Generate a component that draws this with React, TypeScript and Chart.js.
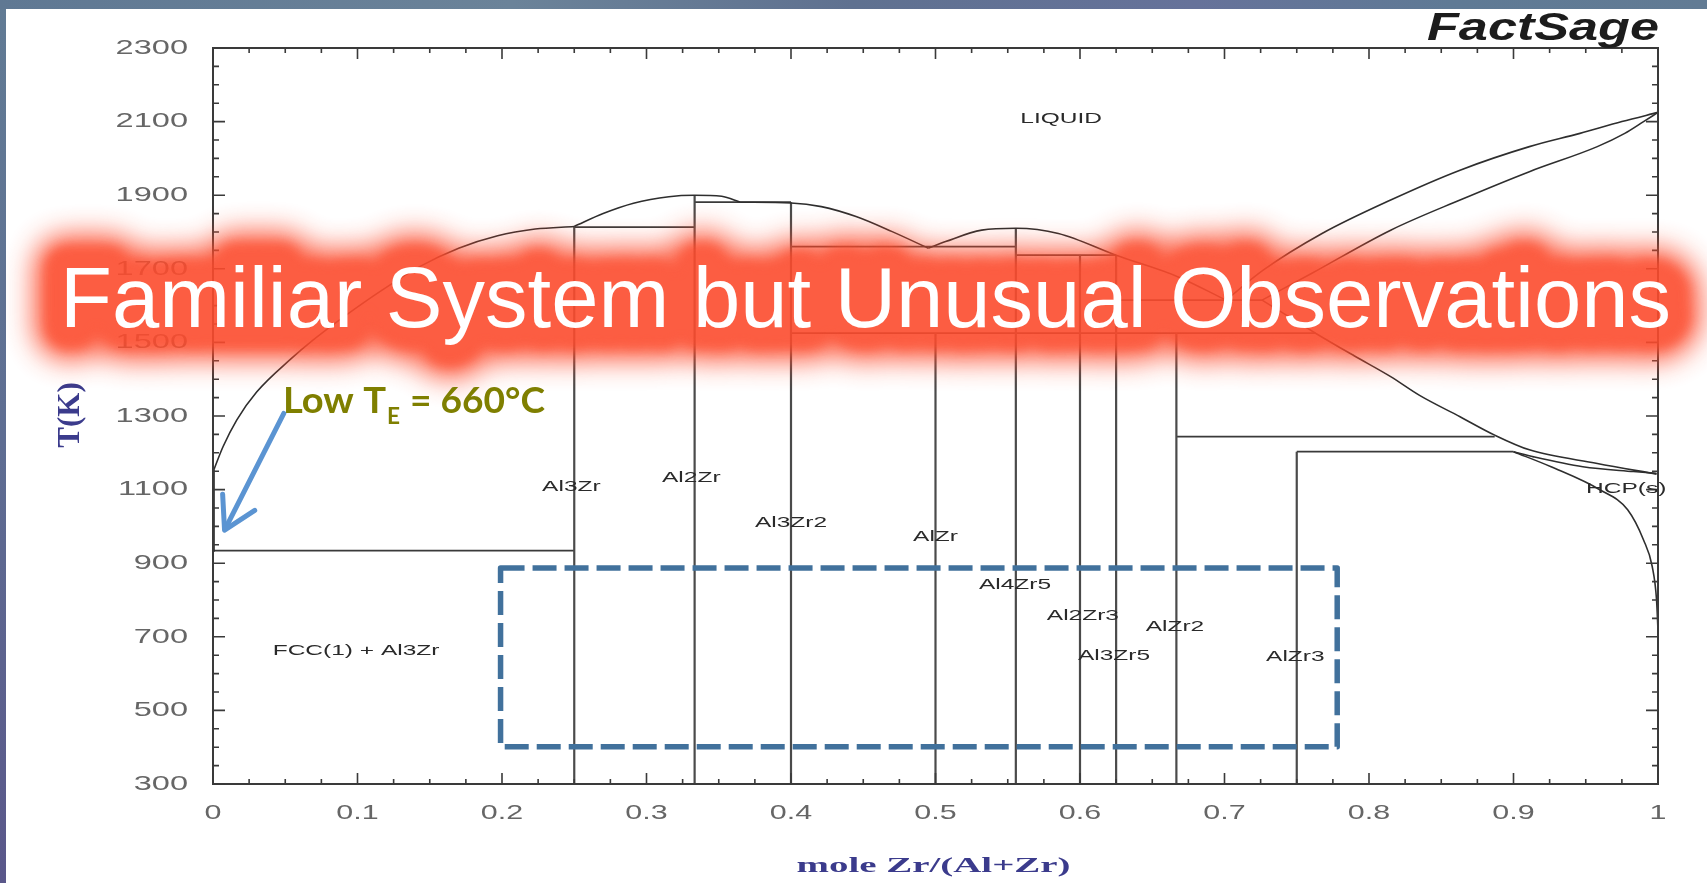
import React, { useEffect, useRef } from 'react';
import { Chart, registerables } from 'chart.js';

Chart.register(...registerables);

const W = 1707;
const H = 883;
const PLOT = { left: 213, top: 48, right: 1658, bottom: 784 };

// ---------- axes ----------
const xMin = 0;
const xMax = 1;
const yMin = 300;
const yMax = 2300;
const xTickValues = [0, 0.1, 0.2, 0.3, 0.4, 0.5, 0.6, 0.7, 0.8, 0.9, 1];
const xTickLabels = ['0', '0.1', '0.2', '0.3', '0.4', '0.5', '0.6', '0.7', '0.8', '0.9', '1'];
const yTickValues = [300, 500, 700, 900, 1100, 1300, 1500, 1700, 1900, 2100, 2300];
const yTickLabels = ['300', '500', '700', '900', '1100', '1300', '1500', '1700', '1900', '2100', '2300'];
const xMinorStep = 0.025;
const yMinorStep = 50;

// ---------- phase boundaries (x = mole Zr/(Al+Zr), y = T in K) ----------
const alEdge = [[0, 934], [0.0005, 1153]];
const alLiquidus = [
  [0.0005, 1153], [0.007, 1217], [0.0164, 1289], [0.0302, 1365], [0.0539, 1455],
  [0.0698, 1508], [0.09, 1568], [0.117, 1642], [0.143, 1706], [0.17, 1756], [0.197, 1790],
  [0.223, 1808], [0.25, 1815],
];
const liquidusArc1 = [
  [0.25, 1815], [0.27, 1850], [0.291, 1878], [0.3155, 1896], [0.333, 1900], [0.352, 1897], [0.365, 1881],
];
const liquidusArc2 = [
  [0.365, 1881], [0.4, 1879], [0.421, 1869], [0.445, 1842], [0.47, 1801], [0.495, 1756],
];
const liquidusArc3 = [
  [0.495, 1756], [0.507, 1774], [0.532, 1805], [0.5556, 1810], [0.585, 1796], [0.625, 1737],
  [0.668, 1678], [0.701, 1615],
];
const betaLiquidus = [
  [0.701, 1615], [0.727, 1697], [0.7675, 1796], [0.815, 1887], [0.863, 1968], [0.911, 2032],
  [0.946, 2068], [0.975, 2100], [1, 2125],
];
const betaSolidus = [
  [0.726, 1615], [0.7605, 1688], [0.815, 1805], [0.863, 1887], [0.911, 1964], [0.958, 2032],
  [0.977, 2068], [0.99, 2100], [1, 2125],
];
const betaSolvus = [
  [0.726, 1615], [0.763, 1525], [0.79, 1463], [0.815, 1407], [0.835, 1356], [0.863, 1298],
  [0.887, 1248], [0.911, 1208], [0.958, 1171], [0.999, 1142],
];
const hcpLens = [[0.9, 1203], [0.914, 1189], [0.948, 1162], [0.983, 1149], [0.999, 1144]];
const hcpSolvus = [
  [0.9, 1203], [0.926, 1162], [0.96, 1099], [0.979, 1045], [0.99, 963], [0.996, 891],
  [0.999, 800], [1, 718],
];

// compounds (vertical lines)
const compoundX = [0.25, 0.3333, 0.4, 0.5, 0.5556, 0.6, 0.625, 0.6667, 0.75];
const compoundTopT = [1815, 1900, 1881, 1525, 1810, 1737, 1737, 1525, 1203];

// invariant isotherms
const isoT = [934, 1813, 1881, 1760, 1737, 1525, 1615, 1244, 1203];
const isoFrom = [0, 0.25, 0.3333, 0.4, 0.5556, 0.4, 0.625, 0.6667, 0.75];
const isoTo = [0.25, 0.3333, 0.4, 0.5556, 0.625, 0.763, 0.726, 0.887, 0.9];

// phase-field labels
const phaseLabelText = ['LIQUID', 'FCC(1) + Al3Zr', 'Al3Zr', 'Al2Zr', 'Al3Zr2', 'AlZr', 'Al4Zr5', 'Al2Zr3', 'Al3Zr5', 'AlZr2', 'AlZr3', 'HCP(s)'];
const phaseLabelX = [0.587, 0.099, 0.248, 0.331, 0.4, 0.5, 0.555, 0.602, 0.6235, 0.6657, 0.749, 0.978];
const phaseLabelT = [2107, 660, 1108, 1131, 1009, 972, 841, 755, 648, 727, 645, 1101];

// slide annotations (in data coordinates)
const arrowFrom = [0.049, 1307];
const arrowTo = [0.008, 990];
const focusBox = [0.199, 887, 0.778, 401]; // x1, T1, x2, T2

const bannerText = 'Familiar System but Unusual Observations';
const xTitle = 'mole Zr/(Al+Zr)';
const yTitle = 'T(K)';
const brand = 'FactSage';

const SANS = '"Liberation Sans", Arial, Helvetica, sans-serif';
const SERIF = '"Liberation Serif", "Times New Roman", serif';
const CALI = 'Lato, "Open Sans", sans-serif';

function drawStretched(ctx: any, text: string, x: number, y: number, sx: number, align: string) {
  ctx.save();
  ctx.translate(x, y);
  ctx.scale(sx, 1);
  ctx.textAlign = align;
  ctx.fillText(text, 0, 0);
  ctx.restore();
}

function drawFitted(ctx: any, text: string, x: number, y: number, width: number, align: string) {
  const m = ctx.measureText(text).width;
  drawStretched(ctx, text, x, y, width / m, align);
}

const decorPlugin = {
  id: 'decor',
  afterDatasetsDraw(chart: any) {
    const ctx = chart.ctx;
    const a = chart.chartArea;
    const xs = chart.scales.x;
    const ys = chart.scales.y;
    ctx.save();
    // frame
    ctx.strokeStyle = '#3a3a3a';
    ctx.lineWidth = 2;
    ctx.strokeRect(a.left, a.top, a.right - a.left, a.bottom - a.top);
    // ticks (inward)
    ctx.lineWidth = 1.6;
    ctx.beginPath();
    const nx = Math.round((xMax - xMin) / xMinorStep);
    for (let i = 0; i <= nx; i++) {
      const px = xs.getPixelForValue(xMin + i * xMinorStep);
      const len = i % 4 === 0 ? 11 : 5;
      ctx.moveTo(px, a.bottom); ctx.lineTo(px, a.bottom - len);
      ctx.moveTo(px, a.top); ctx.lineTo(px, a.top + len);
    }
    const ny = Math.round((yMax - yMin) / yMinorStep);
    for (let i = 0; i <= ny; i++) {
      const py = ys.getPixelForValue(yMin + i * yMinorStep);
      const len = i % 4 === 0 ? 12 : 6;
      ctx.moveTo(a.left, py); ctx.lineTo(a.left + len, py);
      ctx.moveTo(a.right, py); ctx.lineTo(a.right - len, py);
    }
    ctx.stroke();

    // tick labels
    ctx.fillStyle = '#666666';
    ctx.font = `21px ${SANS}`;
    ctx.textBaseline = 'middle';
    yTickValues.forEach((v, i) => {
      drawStretched(ctx, yTickLabels[i], a.left - 25, ys.getPixelForValue(v), 1.55, 'right');
    });
    xTickValues.forEach((v, i) => {
      drawStretched(ctx, xTickLabels[i], xs.getPixelForValue(v), a.bottom + 29, 1.45, 'center');
    });

    // phase labels
    ctx.fillStyle = '#2a2a2a';
    ctx.font = `14px ${SANS}`;
    phaseLabelText.forEach((t, i) => {
      drawStretched(ctx, t, xs.getPixelForValue(phaseLabelX[i]), ys.getPixelForValue(phaseLabelT[i]), 1.75, 'center');
    });

    // axis titles
    ctx.fillStyle = '#3b3b8c';
    ctx.font = `bold 31px ${SERIF}`;
    ctx.save();
    ctx.translate(a.left - 142, (a.top + a.bottom) / 2 - 1);
    ctx.rotate(-Math.PI / 2);
    ctx.textAlign = 'center';
    ctx.textBaseline = 'middle';
    ctx.fillText(yTitle, 0, 0);
    ctx.restore();

    ctx.textBaseline = 'alphabetic';
    ctx.font = `bold 22px ${SERIF}`;
    drawFitted(ctx, xTitle, (a.left + a.right) / 2 - 2, a.bottom + 88, 274, 'center');

    // brand
    ctx.fillStyle = '#1c1c1c';
    ctx.font = `italic bold 38px ${SANS}`;
    drawFitted(ctx, brand, a.right + 1, a.top - 8, 232, 'right');
    ctx.restore();
  },
};

function drawOverlay(chart: any, canvas: HTMLCanvasElement) {
  const ctx = canvas.getContext('2d') as CanvasRenderingContext2D;
  ctx.clearRect(0, 0, W, H);
  const xs = chart.scales.x;
  const ys = chart.scales.y;

  // dashed focus box
  const bx1 = xs.getPixelForValue(focusBox[0]);
  const by1 = ys.getPixelForValue(focusBox[1]);
  const bx2 = xs.getPixelForValue(focusBox[2]);
  const by2 = ys.getPixelForValue(focusBox[3]);
  ctx.save();
  ctx.strokeStyle = '#41719c';
  ctx.lineWidth = 5.5;
  ctx.setLineDash([24, 8]);
  ctx.lineJoin = 'round';
  ctx.strokeRect(bx1, by1, bx2 - bx1, by2 - by1);
  ctx.restore();

  // arrow
  const tx = xs.getPixelForValue(arrowFrom[0]);
  const ty = ys.getPixelForValue(arrowFrom[1]);
  const hx = xs.getPixelForValue(arrowTo[0]);
  const hy = ys.getPixelForValue(arrowTo[1]);
  const dx = hx - tx;
  const dy = hy - ty;
  const len = Math.hypot(dx, dy);
  const ux = dx / len;
  const uy = dy / len;
  const ang = (30 * Math.PI) / 180;
  const wl = 36;
  const w1x = hx - wl * (ux * Math.cos(ang) - uy * Math.sin(ang));
  const w1y = hy - wl * (ux * Math.sin(ang) + uy * Math.cos(ang));
  const w2x = hx - wl * (ux * Math.cos(-ang) - uy * Math.sin(-ang));
  const w2y = hy - wl * (ux * Math.sin(-ang) + uy * Math.cos(-ang));
  ctx.save();
  ctx.strokeStyle = '#5b94d2';
  ctx.lineWidth = 5;
  ctx.lineCap = 'round';
  ctx.lineJoin = 'round';
  ctx.beginPath();
  ctx.moveTo(tx, ty);
  ctx.lineTo(hx - ux * 2, hy - uy * 2);
  ctx.stroke();
  ctx.beginPath();
  ctx.moveTo(w1x, w1y);
  ctx.lineTo(hx, hy);
  ctx.lineTo(w2x, w2y);
  ctx.stroke();
  ctx.restore();

  // banner glow
  const off = document.createElement('canvas');
  off.width = W;
  off.height = H;
  const o = off.getContext('2d') as CanvasRenderingContext2D;
  o.font = `85px ${SANS}`;
  const m = o.measureText(bannerText).width;
  const sx = 1611 / m;
  const red = 'rgb(252,76,46)';
  o.fillStyle = red;
  o.strokeStyle = red;
  o.lineJoin = 'round';
  o.save();
  (o as any).filter = 'blur(14px)';
  o.translate(60, 327);
  o.scale(sx, 1);
  o.lineWidth = 66;
  o.strokeText(bannerText, 0, 0);
  o.fillText(bannerText, 0, 0);
  o.restore();
  o.save();
  (o as any).filter = 'blur(6px)';
  o.translate(60, 327);
  o.scale(sx, 1);
  o.lineWidth = 42;
  o.strokeText(bannerText, 0, 0);
  o.restore();
  ctx.save();
  ctx.globalAlpha = 0.9;
  ctx.drawImage(off, 0, 0);
  ctx.restore();

  ctx.save();
  ctx.fillStyle = '#ffffff';
  ctx.font = `85px ${SANS}`;
  ctx.translate(60, 327);
  ctx.scale(sx, 1);
  ctx.fillText(bannerText, 0, 0);
  ctx.restore();

  // Low T_E annotation
  ctx.save();
  ctx.fillStyle = '#7f7f00';
  ctx.textBaseline = 'alphabetic';
  ctx.font = `bold 36px ${CALI}`;
  drawFitted(ctx, 'Low T', 283, 413, 103, 'left');
  ctx.font = `bold 23px ${CALI}`;
  drawFitted(ctx, 'E', 387, 424, 13, 'left');
  ctx.font = `bold 36px ${CALI}`;
  drawFitted(ctx, '= 660°C', 410, 413, 135, 'left');
  ctx.restore();
}

export default function App() {
  const chartRef = useRef<HTMLCanvasElement>(null);
  const overRef = useRef<HTMLCanvasElement>(null);

  useEffect(() => {
    const canvas = chartRef.current as HTMLCanvasElement;
    const curve = '#2e2e2e';
    const mk = (pts: number[][], width: number, color: string, smooth: boolean) => ({
      data: pts.map((p) => ({ x: p[0], y: p[1] })),
      showLine: true,
      borderColor: color,
      backgroundColor: color,
      borderWidth: width,
      pointRadius: 0,
      pointHoverRadius: 0,
      fill: false,
      tension: smooth ? 0.4 : 0,
      cubicInterpolationMode: smooth ? 'monotone' : 'default',
      clip: false,
    });
    const datasets: any[] = [
      mk(alEdge, 2.2, curve, false),
      mk(alLiquidus, 1.6, curve, true),
      mk(liquidusArc1, 1.6, curve, true),
      mk(liquidusArc2, 1.6, curve, true),
      mk(liquidusArc3, 1.6, curve, true),
      mk(betaLiquidus, 1.6, curve, true),
      mk(betaSolidus, 1.6, curve, true),
      mk(betaSolvus, 1.6, curve, true),
      mk(hcpLens, 1.6, curve, true),
      mk(hcpSolvus, 1.6, curve, true),
    ];
    compoundX.forEach((xv, i) => {
      datasets.push(mk([[xv, yMin], [xv, compoundTopT[i]]], 2.2, '#4a4a4a', false));
    });
    isoT.forEach((t, i) => {
      datasets.push(mk([[isoFrom[i], t], [isoTo[i], t]], 1.7, '#3a3a3a', false));
    });

    const chart = new Chart(canvas, {
      type: 'scatter',
      data: { datasets },
      options: {
        responsive: false,
        animation: false,
        devicePixelRatio: 1,
        events: [],
        layout: {
          padding: { left: PLOT.left, top: PLOT.top, right: W - PLOT.right, bottom: H - PLOT.bottom },
        },
        plugins: { legend: { display: false }, tooltip: { enabled: false }, title: { display: false } },
        scales: {
          x: { type: 'linear', min: xMin, max: xMax, display: false },
          y: { type: 'linear', min: yMin, max: yMax, display: false },
        },
      } as any,
      plugins: [decorPlugin],
    });

    drawOverlay(chart, overRef.current as HTMLCanvasElement);
    return () => chart.destroy();
  }, []);

  return (
    <div
      style={{
        position: 'fixed',
        left: 0,
        top: 0,
        width: W,
        height: H,
        overflow: 'hidden',
        background: 'linear-gradient(180deg, #617b94 0%, #5e6d92 50%, #5a578a 100%)',
      }}
    >
      <div
        style={{
          position: 'absolute',
          left: 0,
          top: 0,
          width: W,
          height: 9,
          background: 'linear-gradient(90deg, #5f7893 0%, #6b8399 30%, #5f7190 50%, #66729a 70%, #5f7a95 85%, #627b94 100%)',
        }}
      />
      <div style={{ position: 'absolute', left: 6, top: 9, width: W - 6, height: H - 9, background: '#ffffff' }} />
      <canvas
        ref={chartRef}
        width={W}
        height={H}
        style={{ position: 'absolute', left: 0, top: 0, width: W, height: H, filter: 'blur(0.6px)' }}
      />
      <canvas
        ref={overRef}
        width={W}
        height={H}
        style={{ position: 'absolute', left: 0, top: 0, width: W, height: H, pointerEvents: 'none' }}
      />
    </div>
  );
}
